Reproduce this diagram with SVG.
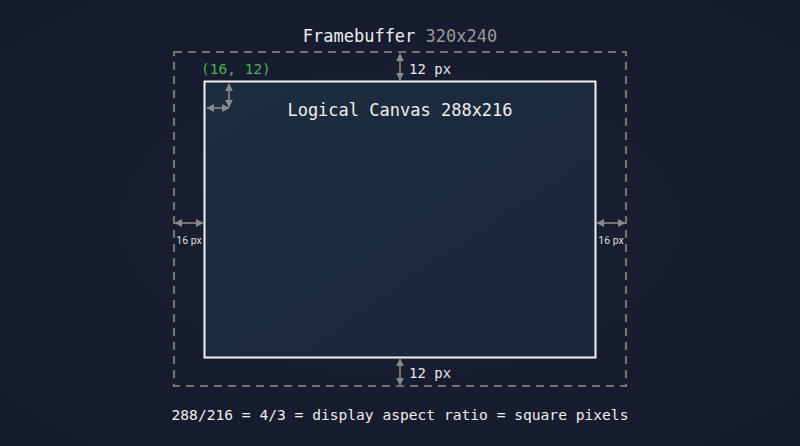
<svg xmlns="http://www.w3.org/2000/svg" width="800" height="446" viewBox="0 0 800 446">
<defs>
<linearGradient id="cg" x1="0" y1="0" x2="1" y2="1">
<stop offset="0" stop-color="#1d2c40"/>
<stop offset="1" stop-color="#1c283b"/>
</linearGradient>
<radialGradient id="bg" cx="0.5" cy="0.5" r="0.7">
<stop offset="0" stop-color="#1a1f33"/>
<stop offset="1" stop-color="#161a2d"/>
</radialGradient>
<marker id="ah" viewBox="0 0 10 10" refX="9" refY="5" markerWidth="5" markerHeight="5" orient="auto-start-reverse">
<path d="M0,0 L10,5 L0,10 z" fill="#8a8a8a"/>
</marker>
<style>
.mono{font-family:"DejaVu Sans Mono","Liberation Mono",monospace}
.dim{stroke:#8a8a8a;stroke-width:1.6;fill:none;marker-start:url(#ah);marker-end:url(#ah)}
.lbl{fill:#e6e6e6;font-size:14px}
.side{font-family:Roboto,"Liberation Sans",sans-serif;fill:#dddddd;font-size:10.5px}
</style>
</defs>
<rect width="800" height="446" fill="url(#bg)"/>
<g id="framebuffer">
<rect x="174" y="52" width="452" height="334" fill="none" stroke="#727272" stroke-width="2.2" stroke-dasharray="8 6"/>
<text class="mono" x="400" y="42" text-anchor="middle" font-size="17" fill="#eeeeee">Framebuffer <tspan fill="#9a9a9a">320x240</tspan></text>
</g>
<g id="canvas">
<rect x="204.5" y="81.5" width="391" height="276" fill="url(#cg)" stroke="#f2f2f2" stroke-width="2"/>
<text class="mono" x="400" y="116" text-anchor="middle" font-size="17" fill="#eeeeee">Logical Canvas 288x216</text>
</g>
<g id="origin">
<text class="mono" x="201" y="74" font-size="14.5" fill="#4caf50">(16, 12)</text>
</g>
<g id="connectors">
<line class="dim" x1="400" y1="54" x2="400" y2="80"/>
<line class="dim" x1="400" y1="359" x2="400" y2="385"/>
<line class="dim" x1="175" y1="223" x2="203" y2="223"/>
<line class="dim" x1="597" y1="223" x2="625" y2="223"/>
<line class="dim" x1="229" y1="84" x2="229" y2="107"/>
<line class="dim" x1="207" y1="108" x2="229" y2="108"/>
</g>
<g id="labels">
<text class="mono lbl" x="409" y="74">12 px</text>
<text class="mono lbl" x="409" y="378">12 px</text>
<text class="side" x="189" y="244" text-anchor="middle">16 px</text>
<text class="side" x="611" y="244" text-anchor="middle">16 px</text>
</g>
<g id="caption">
<text class="mono" x="400" y="420" text-anchor="middle" font-size="14.6" fill="#eeeeee">288/216 = 4/3 = display aspect ratio = square pixels</text>
</g>
</svg>
